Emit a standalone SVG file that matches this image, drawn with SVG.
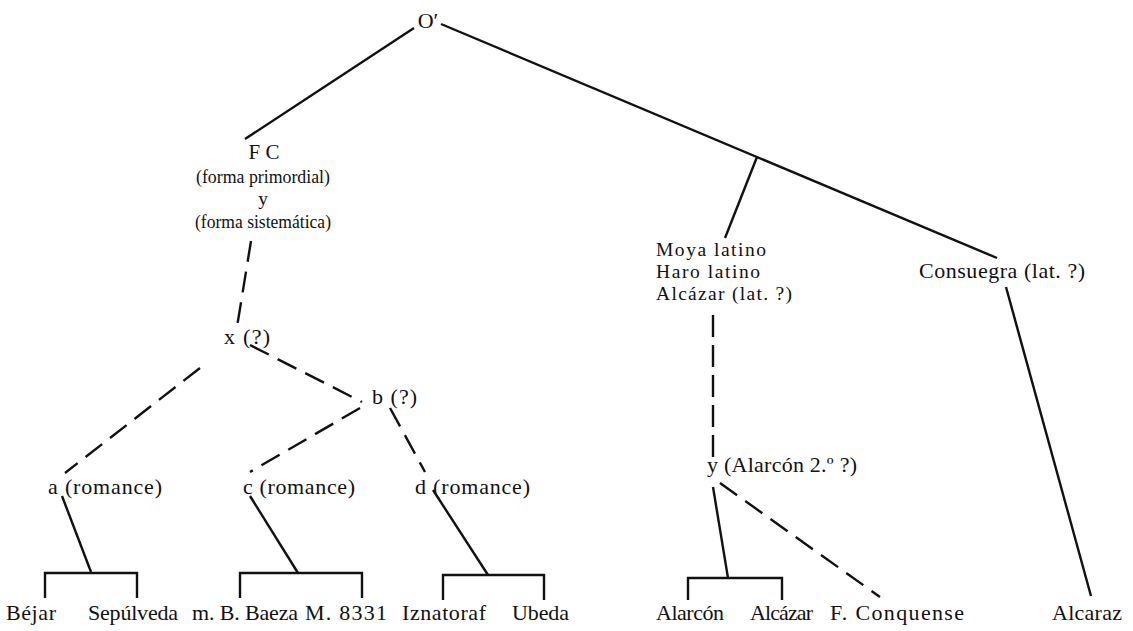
<svg xmlns="http://www.w3.org/2000/svg" width="1133" height="631" viewBox="0 0 1133 631">
<style>
text{font-family:"Liberation Serif","Times New Roman",serif;font-size:22px;fill:#111}
.k{font-size:19.5px}
.c{text-anchor:middle}
.s{stroke:#111;stroke-width:2.4;fill:none}
.d{stroke:#111;stroke-width:2.4;fill:none;stroke-dasharray:21 10}
</style>
<rect width="1133" height="631" fill="#fff"/>
<g id="connectors">
<line class="s" x1="414" y1="28" x2="245" y2="139"/>
<line class="s" x1="441" y1="24" x2="997" y2="258"/>
<line class="s" x1="757" y1="157" x2="725" y2="238"/>
<line class="d" x1="251" y1="241" x2="237" y2="327"/>
<line class="d" x1="200" y1="368" x2="65" y2="473"/>
<line class="d" x1="250" y1="345" x2="362" y2="402"/>
<line class="d" x1="360" y1="408" x2="250" y2="472"/>
<line class="d" x1="390" y1="408" x2="425" y2="472"/>
<line class="s" x1="62" y1="496" x2="91" y2="572"/>
<path class="s" d="M45,598 V573 H137 V598"/>
<line class="s" x1="250" y1="496" x2="298" y2="573"/>
<path class="s" d="M240,598 V573 H362 V598"/>
<line class="s" x1="433" y1="490" x2="488" y2="575"/>
<path class="s" d="M443,600 V575 H544 V600"/>
<line class="d" x1="713" y1="315" x2="713" y2="458" style="stroke-dasharray:22 8"/>
<line class="s" x1="713" y1="487" x2="728" y2="578"/>
<path class="s" d="M688,600 V578 H782 V600"/>
<line class="d" x1="720" y1="483" x2="880" y2="597"/>
<line class="s" x1="1006" y1="287" x2="1091" y2="596"/>
</g>
<g id="n-O"><text class="c" x="428" y="28">O′</text></g>
<g id="n-FC">
<text class="c" x="264" y="159" style="font-size:21px">F C</text>
<text class="c k" x="263" y="183" textLength="134" lengthAdjust="spacingAndGlyphs">(forma primordial)</text>
<text class="c k" x="263" y="205">y</text>
<text class="c k" x="263" y="228" textLength="136" lengthAdjust="spacingAndGlyphs">(forma sistemática)</text>
</g>
<g id="n-x"><text x="224" y="344" textLength="46">x (?)</text></g>
<g id="n-b"><text x="372" y="404" textLength="45">b (?)</text></g>
<g id="n-a"><text x="48" y="494" textLength="114">a (romance)</text></g>
<g id="n-c"><text x="243" y="494" textLength="112">c (romance)</text></g>
<g id="n-d"><text x="415" y="494" textLength="115">d (romance)</text></g>
<g id="n-moya">
<text class="k" x="656" y="256" textLength="110">Moya latino</text>
<text class="k" x="656" y="278" textLength="104">Haro latino</text>
<text class="k" x="656" y="300" textLength="136">Alcázar (lat. ?)</text>
</g>
<g id="n-y"><text x="707" y="472" textLength="150">y (Alarcón 2.º ?)</text></g>
<g id="n-consuegra"><text x="919" y="278" textLength="166">Consuegra (lat. ?)</text></g>
<g id="n-bejar"><text x="6" y="620" textLength="50">Béjar</text></g>
<g id="n-sepulveda"><text x="88" y="620" textLength="90">Sepúlveda</text></g>
<g id="n-baeza"><text x="192" y="620" textLength="106">m. B. Baeza</text></g>
<g id="n-m8331"><text x="305" y="620" textLength="82">M. 8331</text></g>
<g id="n-iznatoraf"><text x="402" y="620" textLength="84">Iznatoraf</text></g>
<g id="n-ubeda"><text x="512" y="620" textLength="57">Ubeda</text></g>
<g id="n-alarcon"><text x="656" y="620" textLength="68">Alarcón</text></g>
<g id="n-alcazar"><text x="750" y="620" textLength="63">Alcázar</text></g>
<g id="n-conquense"><text x="830" y="620" textLength="134">F. Conquense</text></g>
<g id="n-alcaraz"><text x="1052" y="620" textLength="70">Alcaraz</text></g>
</svg>
